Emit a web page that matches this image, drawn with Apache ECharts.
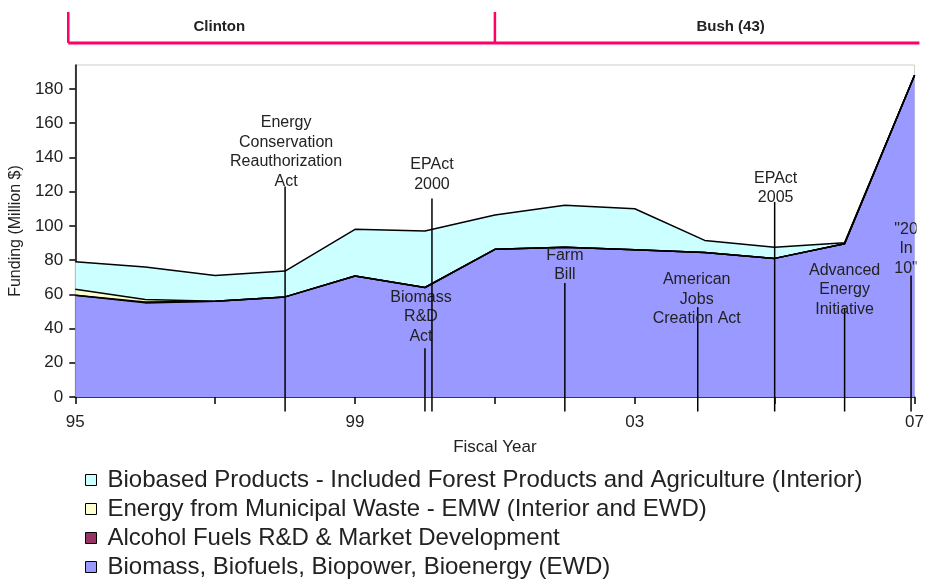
<!DOCTYPE html>
<html>
<head>
<meta charset="utf-8">
<script src="https://cdn.jsdelivr.net/npm/echarts@6/dist/echarts.min.js"></script>
<style>
html,body{margin:0;padding:0;background:#fff;}
#chart{width:927px;height:579px;}
</style>
</head>
<body>
<div id="chart"></div>
<script>
// ---- data ----
const years = [1995, 1996, 1997, 1998, 1999, 2000, 2001, 2002, 2003, 2004, 2005, 2006, 2007];
const biomass  = [59.5, 55, 56, 58.5, 70.7, 64, 86.3, 87.5, 86, 84.5, 81, 89.5, 188];
const alcohol  = [0, 0.5, 0, 0, 0, 0, 0, 0, 0, 0, 0, 0, 0];
const emw      = [3.5, 1.5, 0, 0, 0, 0, 0, 0, 0, 0, 0, 0, 0];
const biobased = [16, 19, 15, 15.1, 27.3, 33, 20.1, 24.5, 24, 7, 6.5, 0.7, 0];
const xTickLabels = ['95', '99', '03', '07'];
const seriesNames = [
  'Biomass, Biofuels, Biopower, Bioenergy (EWD)',
  'Alcohol Fuels R&D & Market Development',
  'Energy from Municipal Waste - EMW (Interior and EWD)',
  'Biobased Products - Included Forest Products and Agriculture (Interior)'
];
const eventNames = [
  'Energy\nConservation\nReauthorization\nAct',
  'Biomass\nR&D\nAct',
  'EPAct\n2000',
  'Farm\nBill',
  'American\nJobs\nCreation Act',
  'EPAct\n2005',
  'Advanced\nEnergy\nInitiative',
  '"20\nIn\n10"'
];
const eventYears = [1998.0, 2000.0, 2000.1, 2002.0, 2003.9, 2005.0, 2006.0, 2006.95];
const presidents = ['Clinton', 'Bush (43)'];
const presidentTerms = [[1994.9, 2001], [2001, 2007.07]];

// ---- layout (positions in axis units / pixels) ----
const baseYear = 1995;
const eventLayout = [
  {lineTop: 123, textY: 143, dx: 1},
  {lineTop: 28.5, textY: 46.7, dx: -4},
  {lineTop: 116, textY: 130, dx: 0},
  {lineTop: 66.6, textY: 77, dx: 0},
  {lineTop: 52.5, textY: 57.2, dx: -1},
  {lineTop: 114, textY: 122, dx: 1},
  {lineTop: 52, textY: 62.5, dx: 0},
  {lineTop: 71, textY: 86.5, dx: -5}
];
const eventBottom = -8.5;
const presLayout = {lineY: 206.9, topY: 225, textY: 216.2, textX: [1997.06 - baseYear, 2004.37 - baseYear]};
const legendOrder = [3, 2, 1, 0];
const legendTop0 = 468, legendStep = 29;

const colors = ['#9999FF', '#993366', '#FFFFCC', '#CCFFFF'];
const valueArrays = [biomass, alcohol, emw, biobased];
const FONT = '"Liberation Sans", Arial, sans-serif';

const chart = echarts.init(document.getElementById('chart'), null, {renderer: 'canvas'});

const areaSeries = valueArrays.map((arr, k) => ({
  name: seriesNames[k],
  type: 'line',
  xAxisIndex: 1,
  stack: 'total',
  symbol: 'none',
  smooth: false,
  z: 2,
  lineStyle: {color: '#000', width: 1.5},
  areaStyle: {color: colors[k], opacity: 1},
  itemStyle: {color: colors[k], borderColor: '#000', borderWidth: 1},
  data: arr.slice()
}));

const eventSeries = {
  type: 'custom',
  name: 'events',
  xAxisIndex: 0,
  clip: false,
  z: 10,
  silent: true,
  data: eventYears.map((y, i) => [y - baseYear, i]),
  renderItem: function (params, api) {
    const x = api.value(0);
    const i = api.value(1);
    const L = eventLayout[i];
    const pTop = api.coord([x, L.lineTop]);
    const pBot = api.coord([x, eventBottom]);
    const pText = api.coord([x, L.textY]);
    const cs = params.coordSys;
    return {
      type: 'group',
      children: [
        {type: 'line', shape: {x1: pTop[0], y1: pTop[1], x2: pBot[0], y2: pBot[1]},
          style: {stroke: '#000', lineWidth: 1.5}},
        {type: 'group',
          clipPath: {type: 'rect', shape: {x: cs.x, y: cs.y, width: cs.width + 2, height: cs.height}},
          children: [
            {type: 'text', style: {text: eventNames[i], x: pText[0] + L.dx, y: pText[1],
              align: 'center', verticalAlign: 'middle', fill: '#222',
              font: '16px ' + FONT, lineHeight: 19.6}}
          ]}
      ]
    };
  }
};

const presSeries = {
  type: 'custom',
  name: 'presidents',
  xAxisIndex: 0,
  clip: false,
  z: 10,
  silent: true,
  data: presidents.map((p, i) => [presidentTerms[i][0] - baseYear, presidentTerms[i][1] - baseYear, i]),
  renderItem: function (params, api) {
    const x0 = api.value(0), x1 = api.value(1), i = api.value(2);
    const a = api.coord([x0, presLayout.lineY]);
    const b = api.coord([x1, presLayout.lineY]);
    const t = api.coord([x0, presLayout.topY]);
    const tx = api.coord([presLayout.textX[i], presLayout.textY]);
    return {
      type: 'group',
      children: [
        {type: 'line', shape: {x1: a[0], y1: a[1], x2: b[0], y2: b[1]}, style: {stroke: '#FF0066', lineWidth: 3}},
        {type: 'line', shape: {x1: t[0], y1: t[1], x2: a[0], y2: a[1]}, style: {stroke: '#FF0066', lineWidth: 2.5}},
        {type: 'text', style: {text: presidents[i], x: tx[0], y: tx[1], align: 'center', verticalAlign: 'middle',
          fill: '#222', font: 'bold 15px ' + FONT}}
      ]
    };
  }
};

const legends = legendOrder.map((k, j) => ({
  orient: 'vertical',
  left: 85,
  top: legendTop0 + j * legendStep,
  padding: 0,
  itemWidth: 11,
  itemHeight: 11,
  icon: 'rect',
  selectedMode: false,
  data: [seriesNames[k]],
  textStyle: {fontSize: 24, lineHeight: 23, color: '#222', fontFamily: FONT, padding: [0, 0, 0, 6]},
  itemStyle: {borderColor: '#000', borderWidth: 1}
}));

const option = {
  animation: false,
  backgroundColor: '#fff',
  grid: {left: 75, right: 12, top: 65, bottom: 182, show: true, borderColor: '#cccccc', borderWidth: 1, containLabel: false},
  legend: legends,
  xAxis: [{
    type: 'value',
    min: 0,
    max: years[years.length - 1] - baseYear,
    interval: 2,
    name: 'Fiscal Year',
    nameLocation: 'middle',
    nameGap: 42,
    nameTextStyle: {fontSize: 17, color: '#222', fontFamily: FONT},
    axisLine: {lineStyle: {color: '#000', width: 1.5}},
    axisTick: {show: true, length: 7, lineStyle: {color: '#000', width: 1.5}},
    splitLine: {show: false},
    axisLabel: {
      margin: 17,
      fontSize: 17,
      color: '#222',
      fontFamily: FONT,
      formatter: function (v) { return (v % 4 === 0) ? xTickLabels[v / 4] : ''; }
    }
  }, {
    type: 'category',
    data: years.map(String),
    boundaryGap: false,
    show: false
  }],
  yAxis: {
    type: 'value',
    min: 0,
    max: 194,
    interval: 20,
    name: 'Funding (Million $)',
    nameLocation: 'middle',
    nameGap: 49,
    nameTextStyle: {fontSize: 16, color: '#222', fontFamily: FONT},
    axisLine: {show: true, lineStyle: {color: '#000', width: 1.5}},
    axisTick: {show: true, length: 6, lineStyle: {color: '#000', width: 1.5}},
    splitLine: {show: false},
    axisLabel: {showMaxLabel: false, margin: 12, fontSize: 17, color: '#222', fontFamily: FONT}
  },
  series: areaSeries.concat([eventSeries, presSeries])
};
chart.setOption(option);
</script>
</body>
</html>
